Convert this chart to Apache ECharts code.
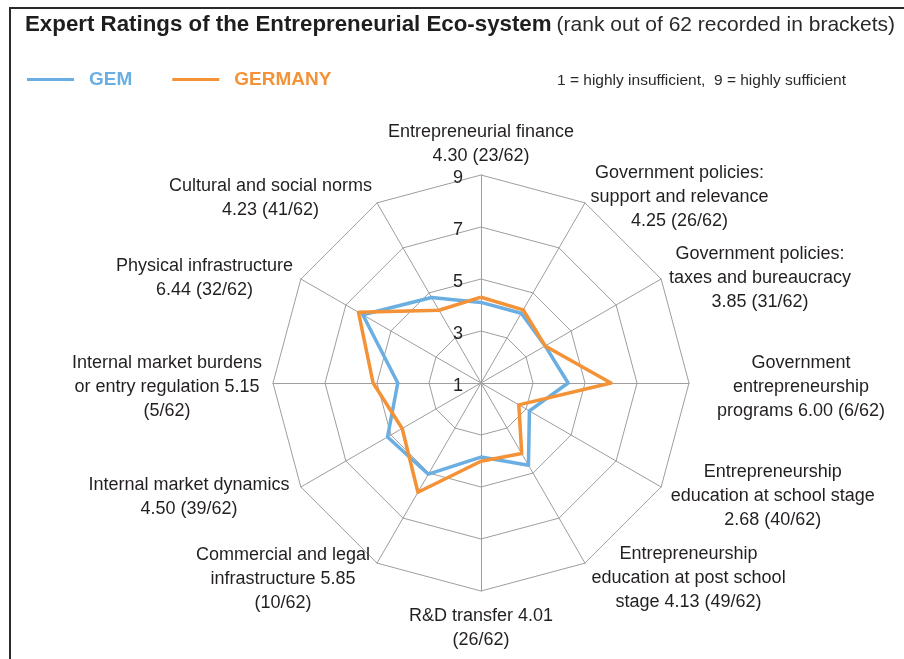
<!DOCTYPE html>
<html>
<head>
<meta charset="utf-8">
<script src="https://cdn.jsdelivr.net/npm/echarts@6/dist/echarts.min.js"></script>
<style>
html,body{margin:0;padding:0;background:#fff;}
#wrap{position:relative;width:904px;height:659px;overflow:hidden;}
#c{width:904px;height:659px;}
#frame{position:absolute;left:9px;top:7px;right:-4px;bottom:-4px;border-top:2px solid #2b2b2b;border-left:2px solid #2b2b2b;pointer-events:none;}
</style>
</head>
<body>
<div id="wrap"><div id="c"></div><div id="frame"></div></div>
<script>
// ---- data (clockwise from top) ----
const categories = [
  ['Entrepreneurial finance', '%v (%r)'],
  ['Government policies:', 'support and relevance', '%v (%r)'],
  ['Government policies:', 'taxes and bureaucracy', '%v (%r)'],
  ['Government', 'entrepreneurship', 'programs %v (%r)'],
  ['Entrepreneurship', 'education at school stage', '%v (%r)'],
  ['Entrepreneurship', 'education at post school', 'stage %v (%r)'],
  ['R&D transfer %v', '(%r)'],
  ['Commercial and legal', 'infrastructure %v', '(%r)'],
  ['Internal market dynamics', '%v (%r)'],
  ['Internal market burdens', 'or entry regulation %v', '(%r)'],
  ['Physical infrastructure', '%v (%r)'],
  ['Cultural and social norms', '%v (%r)']
];
const ranks = ['23/62','26/62','31/62','6/62','40/62','49/62','26/62','10/62','39/62','5/62','32/62','41/62'];
const germanyValues = [4.30, 4.25, 3.85, 6.00, 2.68, 4.13, 4.01, 5.85, 4.50, 5.15, 6.44, 4.23];
const gemValues     = [4.10, 4.10, 3.85, 4.35, 3.15, 4.65, 3.85, 5.05, 5.15, 4.20, 6.25, 4.80];
const seriesNames = ['GEM', 'GERMANY'];
const tickValues = [1, 3, 5, 7, 9];
const titleMain = 'Expert Ratings of the Entrepreneurial Eco-system';
const titleSub = '(rank out of 62 recorded in brackets)';
const scaleNote = '1 = highly insufficient,  9 = highly sufficient';

// ---- styling ----
const BLUE = '#6aaee2';
const ORANGE = '#f39236';
const TXT = '#231f20';
const GRID = '#9e9e9e';
const FONT = "'Liberation Sans', Arial, sans-serif";
const nameGaps = [7, 11, 9, 28, 11, 13, 5, 14, 13, 11, 9, 10];

// ECharts lays radar indicators counter-clockwise; reorder so they run clockwise.
const order = categories.map((_, i) => (categories.length - i) % categories.length);

const labelText = i => categories[i]
  .map(l => l.replace('%v', germanyValues[i].toFixed(2)).replace('%r', ranks[i]))
  .join('\n');

const vMin = tickValues[0];
const vMax = tickValues[tickValues.length - 1];

const indicator = order.map((i, k) => {
  const o = { name: labelText(i), min: vMin, max: vMax, nameGap: nameGaps[i] };
  if (k === 0) {
    o.axisLabel = {
      show: true,
      formatter: v => '{t|' + v + '\u00a0\u00a0}',
      rich: {
        t: { fontFamily: FONT, fontSize: 18, color: TXT, padding: [7, 0, 0, 0] }
      }
    };
  }
  return o;
});

const chart = echarts.init(document.getElementById('c'), null, { renderer: 'canvas' });
chart.setOption({
  backgroundColor: '#fff',
  animation: false,
  title: [{
    left: 20, top: 9,
    text: '{b|' + titleMain + '} {n|' + titleSub + '}',
    textStyle: {
      rich: {
        b: { fontFamily: FONT, fontWeight: 'bold', fontSize: 22.3, color: '#1e1e1e' },
        n: { fontFamily: FONT, fontWeight: 'normal', fontSize: 21, color: '#2a2a2a' }
      }
    }
  }, {
    left: 552, top: 68,
    text: scaleNote,
    textStyle: { fontFamily: FONT, fontWeight: 'normal', fontSize: 15.5, color: '#2a2a2a' }
  }],
  legend: {
    left: 22, top: 65,
    icon: 'rect',
    itemWidth: 47, itemHeight: 3, itemGap: 40,
    data: [
      { name: seriesNames[0], textStyle: { color: BLUE } },
      { name: seriesNames[1], textStyle: { color: ORANGE } }
    ],
    textStyle: { fontFamily: FONT, fontWeight: 'bold', fontSize: 19, padding: [0, 0, 0, 10] }
  },
  radar: {
    center: [481, 383],
    radius: 208,
    startAngle: 90,
    shape: 'polygon',
    splitNumber: tickValues.length - 1,
    indicator: indicator,
    axisName: {
      color: TXT,
      padding: [8, 0, 0, 0],
      formatter: name => name.split('\n').map(l => '{c|' + l + '}').join('\n'),
      rich: { c: { align: 'center', fontFamily: FONT, fontSize: 18, lineHeight: 24, color: TXT } }
    },
    axisLine: { show: true, lineStyle: { color: GRID, width: 1 } },
    splitLine: { show: true, lineStyle: { color: GRID, width: 1 } },
    splitArea: { show: false },
    axisTick: { show: false },
    axisLabel: { show: false, fontFamily: FONT, fontSize: 18, color: TXT }
  },
  series: [{
    type: 'radar',
    symbol: 'none',
    data: [
      { name: seriesNames[0], value: order.map(i => gemValues[i]),
        lineStyle: { color: BLUE, width: 3.5 }, itemStyle: { color: BLUE } },
      { name: seriesNames[1], value: order.map(i => germanyValues[i]),
        lineStyle: { color: ORANGE, width: 3.5 }, itemStyle: { color: ORANGE } }
    ]
  }]
});
</script>
</body>
</html>
